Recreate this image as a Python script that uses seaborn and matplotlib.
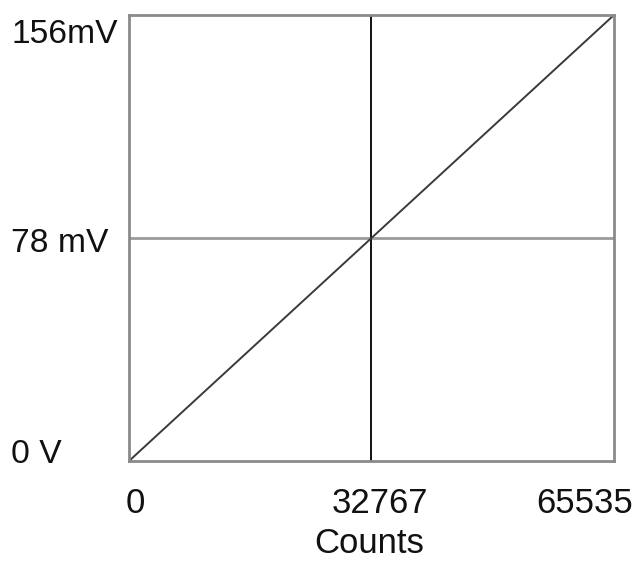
import matplotlib
matplotlib.use("Agg")
import matplotlib.pyplot as plt
import matplotlib.transforms as mtransforms
import seaborn as sns
import pandas as pd

# Data
counts = [0, 65535]
millivolts = [0, 156]
x_ticks = [0, 32767, 65535]
x_tick_labels = ["0", "32767", "65535"]
y_ticks = [0, 78, 156]
y_tick_labels = ["0 V", "78 mV", "156mV"]
x_label = "Counts"

sns.set_theme(style="white")
plt.rcParams['font.family'] = ['Liberation Sans', 'DejaVu Sans']

DPI = 100
fig = plt.figure(figsize=(6.37, 5.61), dpi=DPI)
ax = fig.add_axes([129/637, 1-461/561, (614-129)/637, (461-15)/561])

df = pd.DataFrame({"counts": counts, "mv": millivolts})
sns.lineplot(data=df, x="counts", y="mv", ax=ax, color="#3a3a3a", linewidth=1.4)
ax.axhline(y_ticks[1], color="#9a9a9a", linewidth=2.0, zorder=1)
ax.axvline(x_ticks[1], color="#111111", linewidth=1.4, zorder=1)

ax.set_xlim(x_ticks[0], x_ticks[-1])
ax.set_ylim(y_ticks[0], y_ticks[-1])
ax.set_xticks([])
ax.set_yticks([])
ax.set_xlabel("")
ax.set_ylabel("")
for s in ax.spines.values():
    s.set_color("#8a8a8a")
    s.set_linewidth(2.0)
    s.set_visible(True)

def px(dx, dy):
    return mtransforms.ScaledTranslation(dx / DPI, -dy / DPI, fig.dpi_scale_trans)

# y labels: left-aligned near the figure's left edge, baselines
ybase = {0: 463, 78: 252, 156: 43}
for v, lab in zip(y_ticks, y_tick_labels):
    fig.text(11/637, 1 - ybase[v]/561, lab, ha="left", va="baseline",
             fontsize=24.2, color="#111111")

# x labels
xinfo = {0: ("left", -3), 32767: ("center", 8), 65535: ("right", 19)}
for v, lab in zip(x_ticks, x_tick_labels):
    ha, dx = xinfo[v]
    tr = ax.get_xaxis_transform() + px(dx, 52)
    ax.text(v, 0, lab, transform=tr, ha=ha, va="baseline",
            fontsize=25, color="#111111", clip_on=False)

fig.text(369.5/637, 1 - 553/561, x_label, ha="center", va="baseline",
         fontsize=25, color="#111111")

fig.savefig("out.png", dpi=DPI, facecolor="white")
